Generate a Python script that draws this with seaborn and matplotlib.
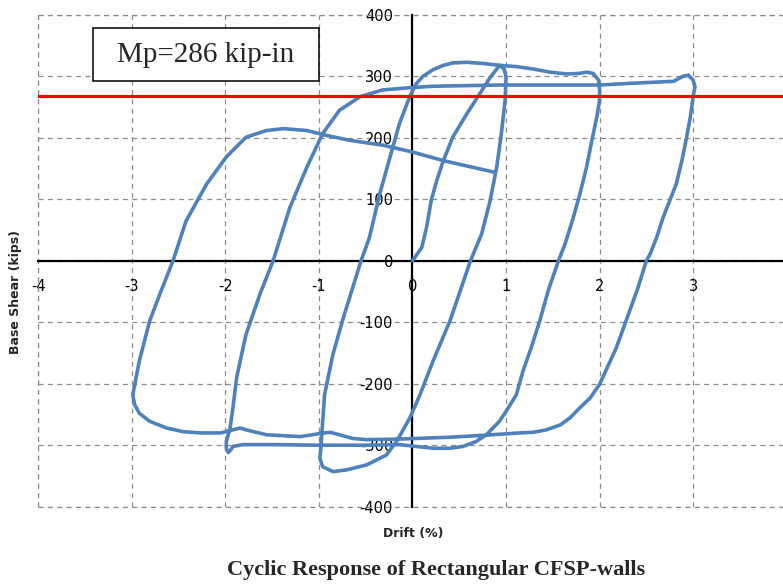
import numpy as np
import pandas as pd
import matplotlib
matplotlib.use("Agg")
import matplotlib.pyplot as plt
import seaborn as sns
from matplotlib.patches import Rectangle
from matplotlib.ticker import MultipleLocator

sns.set_style("white")
plt.rcParams["font.family"] = ["DejaVu Sans"]
plt.rcParams["axes.unicode_minus"] = False

# ── data: hysteresis, one list per half cycle ──────────────────────────────
drift_load1 = [0.0, 0.10, 0.15, 0.20, 0.26, 0.33, 0.43, 0.58, 0.72, 0.82, 0.93]
shear_load1 = [0, 22, 54, 98, 131, 163, 201, 239, 272, 296, 318]

drift_neg1 = [0.98, 1.0, 0.99, 0.95, 0.90, 0.83, 0.74, 0.62, 0.40, 0.22, 0.08, -0.03,
              -0.17, -0.28, -0.49, -0.70, -0.85, -0.96, -0.99, -0.98]
shear_neg1 = [312, 299, 261, 207, 152, 98, 44, 0, -98, -163, -218, -256,
              -294, -316, -332, -340, -343, -335, -321, -305]

drift_pos2 = [-0.94, -0.85, -0.74, -0.64, -0.55, -0.46, -0.35, -0.24, -0.14, -0.03,
              0.04, 0.11, 0.22, 0.33, 0.43, 0.58, 0.76, 0.93, 1.11, 1.29, 1.47,
              1.65, 1.79, 1.86, 1.93, 1.99, 2.0]
shear_pos2 = [-218, -152, -93, -44, 0, 38, 109, 169, 223, 267,
              288, 300, 311, 318, 322, 323, 321, 318, 316, 312, 307,
              304, 305, 307, 305, 294, 278]

drift_neg2 = [2.0, 1.97, 1.91, 1.86, 1.79, 1.72, 1.63, 1.56, 1.45, 1.36, 1.27, 1.18,
              1.11, 1.0, 0.93, 0.79, 0.68, 0.54, 0.40, 0.22, 0.04, -0.14, -0.5,
              -1.0, -1.5, -1.81, -1.92, -1.94, -1.97, -1.99, -1.99]
shear_neg2 = [261, 234, 190, 152, 109, 71, 27, 0, -49, -98, -141, -180,
              -218, -245, -261, -283, -294, -302, -305, -305, -302, -299, -300,
              -300, -299, -299, -302, -307, -312, -305, -294]

drift_pos3 = [-1.95, -1.92, -1.88, -1.78, -1.63, -1.49, -1.31, -1.13, -0.96, -0.78,
              -0.56, -0.32, 0.0, 0.22, 0.93, 1.65, 2.0, 2.36, 2.79, 2.89, 2.95,
              3.0, 3.02, 3.0]
shear_pos3 = [-272, -240, -190, -120, -54, 0, 87, 152, 207, 245,
              267, 278, 282, 284, 286, 286, 286, 289, 292, 300, 302,
              294, 283, 267]

drift_neg3 = [2.97, 2.93, 2.88, 2.82, 2.75, 2.68, 2.61, 2.54, 2.50, 2.41, 2.32, 2.18,
              2.0, 1.9, 1.79, 1.68, 1.58, 1.43, 1.29, 1.15, 0.75, 0.4, -0.14, -0.49,
              -0.64, -0.78, -0.88, -0.99, -1.2, -1.56, -1.78, -1.84, -2.05, -2.27,
              -2.45, -2.63, -2.81, -2.92, -2.97, -2.99]
shear_neg3 = [234, 201, 163, 125, 98, 71, 38, 11, 0, -44, -82, -141,
              -201, -223, -239, -256, -267, -275, -279, -280, -284, -287, -290, -291,
              -289, -283, -279, -281, -286, -283, -275, -272, -280, -280,
              -278, -272, -261, -248, -234, -218]

drift_last = [-2.92, -2.81, -2.70, -2.56, -2.42, -2.20, -1.99, -1.78, -1.56, -1.38,
              -1.13, -0.92, -0.67, -0.31, 0.0, 0.33, 0.88]
shear_last = [-163, -98, -54, 0, 65, 125, 169, 201, 212, 215,
              212, 204, 196, 188, 177, 163, 144]

mp_shear = 268          # red reference line
x_ticks = [-4, -3, -2, -1, 0, 1, 2, 3, 4]
y_ticks = [-400, -300, -200, -100, 0, 100, 200, 300, 400]

drift = drift_load1 + drift_neg1 + drift_pos2 + drift_neg2 + drift_pos3 + drift_neg3 + drift_last
shear = shear_load1 + shear_neg1 + shear_pos2 + shear_neg2 + shear_pos3 + shear_neg3 + shear_last
df = pd.DataFrame({"drift": drift, "shear": shear})

# ── figure ─────────────────────────────────────────────────────────────────
fig = plt.figure(figsize=(7.83, 5.84), dpi=100)
ax = fig.add_axes([0.0489, 0.1324, 0.9558, 0.842])

sns.lineplot(data=df, x="drift", y="shear", sort=False, estimator=None,
             color="#4F81BD", lw=2.6, ax=ax, zorder=3,
             solid_joinstyle="round", solid_capstyle="round")
ax.axhline(mp_shear, color="#FF0000", lw=2.3, zorder=4)

ax.set_xlim(-4, 4); ax.set_ylim(-400, 400)
ax.set_xticks(x_ticks); ax.set_yticks(y_ticks)
ax.xaxis.set_minor_locator(MultipleLocator(0.2))
grid_kw = dict(color="#8c8c8c", linestyle=(0, (4, 3.5)), lw=0.9)
ax.grid(True, which="major", **grid_kw)
# outer border gridlines drawn unclipped so they show at full width
ax.axhline(y_ticks[0], clip_on=False, zorder=1, **grid_kw)
ax.axhline(y_ticks[-1], clip_on=False, zorder=1, **grid_kw)
ax.axvline(x_ticks[0], clip_on=False, zorder=1, **grid_kw)
ax.set_xlabel(""); ax.set_ylabel("")

for side in ["top", "right"]:
    ax.spines[side].set_visible(False)
for side in ["left", "bottom"]:
    ax.spines[side].set_position(("data", 0))
    ax.spines[side].set_color("black")
    ax.spines[side].set_linewidth(1.6)
    ax.spines[side].set_zorder(2.5)

ax.tick_params(axis="x", which="major", direction="in", length=5, width=1.4,
               pad=13, labelsize=10.5, colors="black")
ax.tick_params(axis="x", which="minor", direction="in", length=3.5, width=1.4)
ax.tick_params(axis="y", length=0, pad=14, labelsize=10.5, colors="black")

# Mp box
ax.add_patch(Rectangle((0.0727, 0.8658), 0.3024, 0.1072, transform=ax.transAxes,
                       facecolor="white", edgecolor="black", lw=1.1, zorder=5))
ax.text(0.224, 0.918, "Mp=286 kip-in", transform=ax.transAxes, ha="center",
        va="center", fontsize=21, family="Liberation Serif", zorder=6)

fig.text(16 / 783, 1 - 292 / 584, "Base Shear (kips)", rotation=90, ha="center",
         va="center", fontsize=9, fontweight="bold")
fig.text(413 / 783, 1 - 534 / 584, "Drift (%)", ha="center", va="center",
         fontsize=9, fontweight="bold")
fig.text(436 / 783, 1 - 570 / 584, "Cyclic Response of Rectangular CFSP-walls",
         ha="center", va="center", fontsize=16, fontweight="bold",
         family="Liberation Serif")

fig.savefig("out.png", dpi=100)
